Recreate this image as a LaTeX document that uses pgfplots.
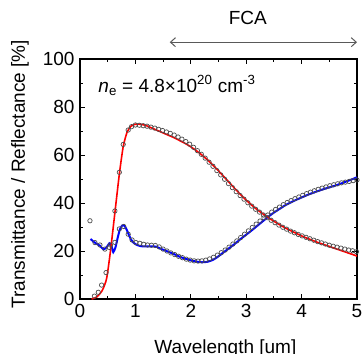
\documentclass[border=0pt]{standalone}
\usepackage{pgfplots}
\pgfplotsset{compat=1.18}
\usepackage{fontspec}
\setmainfont{Liberation Sans}
\usetikzlibrary{arrows.meta}
\begin{document}
\begin{tikzpicture}
\begin{axis}[
  name=ax,
  scale only axis,
  width=277bp, height=240bp,
  xmin=0, xmax=5, ymin=0, ymax=100,
  xtick={0,1,2,3,4,5}, ytick={0,20,40,60,80,100},
  minor x tick num=1, minor y tick num=1,
  tick align=inside,
  major tick length=5bp, minor tick length=3bp,
  axis line style={line width=1.1bp},
  every tick/.style={black, line width=0.9bp},
  font=\fontsize{19bp}{22bp}\selectfont,
  /pgf/number format/assume math mode=true,
  xticklabel style={yshift=-2bp},
  yticklabel style={xshift=-2bp},
  xlabel={Wavelength [um]},
  xlabel style={at={(axis description cs:0.525,-0.229)}, anchor=base},
  ylabel={Transmittance / Reflectance [\%]},
  ylabel style={at={(axis description cs:-0.217,0.52)}, anchor=center, rotate=0},
  clip=false,
]
% measured transmittance (circles)
\addplot[only marks, mark=o, mark size=2.2bp, mark options={draw=black!70, line width=0.7bp}] coordinates {
(0.26,1.2) (0.33,2.8) (0.39,5.8) (0.47,11) (0.55,22.5) (0.63,36.7) (0.71,52.8) (0.78,64.4) (0.87,70.4) (0.93,71.8) (1.0,72.5) (1.07,72.4) (1.14,72.2) (1.21,72) (1.28,71.6) (1.35,71.2) (1.42,70.7) (1.49,70.2) (1.56,69.6) (1.63,69) (1.7,68.3) (1.77,67.5) (1.84,66.6) (1.91,65.6) (1.98,64.5) (2.05,63.2) (2.12,61.8) (2.19,60.3) (2.26,58.7) (2.33,57) (2.4,55.3) (2.47,53.5) (2.54,51.7) (2.61,49.9) (2.68,48.1) (2.75,46.4) (2.82,44.7) (2.89,43.1) (2.96,41.6) (3.03,40.1) (3.10,38.7) (3.17,37.4) (3.24,36.2) (3.31,35) (3.38,33.9) (3.45,32.8) (3.52,31.8) (3.59,30.8) (3.66,29.9) (3.73,29.1) (3.80,28.3) (3.87,27.6) (3.94,26.9) (4.01,26.3) (4.08,25.7) (4.15,25.1) (4.22,24.5) (4.29,23.9) (4.36,23.4) (4.43,22.9) (4.50,22.4) (4.57,22) (4.64,21.6) (4.71,21.2) (4.78,20.8) (4.85,20.4) (4.92,20.1) (4.99,19.7)
};
% measured reflectance (circles)
\addplot[only marks, mark=o, mark size=2.2bp, mark options={draw=black!70, line width=0.7bp}] coordinates {
(0.18,32.6) (0.27,23.5) (0.36,22.5) (0.45,20.8) (0.53,21.5) (0.63,23.6) (0.71,29.2) (0.79,30.2) (0.87,27) (0.94,24.6) (1.01,23.5) (1.08,23.2) (1.15,22.8) (1.22,22.5) (1.29,22.4) (1.36,22.3) (1.43,21.7) (1.50,20.8) (1.57,20) (1.64,19.2) (1.71,18.5) (1.78,17.8) (1.85,17.2) (1.92,16.6) (1.99,16.2) (2.06,15.9) (2.13,15.8) (2.20,15.9) (2.27,16.2) (2.34,16.7) (2.41,17.4) (2.48,18.3) (2.55,19.3) (2.62,20.4) (2.69,21.6) (2.76,22.9) (2.83,24.2) (2.90,25.6) (2.97,27) (3.04,28.4) (3.11,29.8) (3.18,31.2) (3.25,32.5) (3.32,33.8) (3.39,35) (3.46,36.2) (3.53,37.3) (3.60,38.3) (3.67,39.3) (3.74,40.2) (3.81,41) (3.88,41.8) (3.95,42.5) (4.02,43.2) (4.09,43.9) (4.16,44.5) (4.23,45.1) (4.30,45.7) (4.37,46.2) (4.44,46.7) (4.51,47.2) (4.58,47.6) (4.65,48) (4.72,48.4) (4.79,48.7) (4.86,49) (4.93,49.3) (5.0,49.6)
};
% calculated reflectance (blue)
\addplot[blue, line width=2bp, smooth, tension=0.4] coordinates {
(0.19,25) (0.25,23.8) (0.3,23) (0.36,22.2) (0.42,20.7) (0.48,21.5) (0.53,23.2) (0.57,22) (0.6,19.5) (0.64,21.5) (0.68,25.5) (0.72,29) (0.76,30.6) (0.79,30.8) (0.83,29.5) (0.87,27.4) (0.92,24.8) (0.96,23.6) (1.02,22.6) (1.1,22) (1.2,21.9) (1.3,21.9) (1.38,21.8) (1.45,21) (1.56,20) (1.7,18.7) (1.8,17.6) (1.93,16.6) (2.0,16.1) (2.1,15.6) (2.2,15.3) (2.3,15.5) (2.4,16.3) (2.5,17.8) (2.6,19.6) (2.7,21.3) (2.8,23.1) (2.9,25) (3.0,26.8) (3.1,28.6) (3.2,30.5) (3.3,32.4) (3.4,34.3) (3.5,36) (3.6,37.5) (3.7,39) (3.8,40.2) (3.9,41.3) (4.0,42.3) (4.1,43.3) (4.2,44.2) (4.3,45) (4.4,45.8) (4.5,46.5) (4.6,47.2) (4.7,48) (4.8,48.9) (4.9,49.8) (5.0,50.7)
};
% calculated transmittance (red)
\addplot[red, line width=1.6bp, smooth, tension=0.4] coordinates {
(0.21,0) (0.3,0.8) (0.4,3.5) (0.48,8.5) (0.55,20) (0.63,36) (0.71,52) (0.78,63.5) (0.85,69.5) (0.92,72) (1.0,72.8) (1.1,72.8) (1.2,72.2) (1.3,71.2) (1.4,70.2) (1.5,69.2) (1.6,68.2) (1.7,67.2) (1.8,66) (1.9,64.8) (2.0,63.4) (2.1,61.8) (2.2,60) (2.3,58) (2.4,55.8) (2.5,53.4) (2.6,50.9) (2.7,48.4) (2.8,45.9) (2.9,43.5) (3.0,41.2) (3.1,39.1) (3.2,37.2) (3.3,35.5) (3.4,33.9) (3.5,32.4) (3.6,31) (3.7,29.7) (3.8,28.5) (3.9,27.4) (4.0,26.3) (4.1,25.3) (4.2,24.4) (4.3,23.5) (4.4,22.7) (4.5,21.9) (4.6,21.1) (4.7,20.3) (4.8,19.5) (4.9,18.7) (5.0,17.9)
};
\node[anchor=west, inner sep=0pt] at (axis cs:0.33,89) {\textit{n}\textsubscript{e} = 4.8×10\textsuperscript{20} cm\textsuperscript{-3}};
\draw[{Straight Barb[length=5bp,width=9bp]}-{Straight Barb[length=5bp,width=9bp]}, black!65, line width=1bp] (axis cs:1.62,107) -- (axis cs:5.0,107);
\node[inner sep=0pt] at (axis cs:3.03,117) {FCA};
\end{axis}
\pgfresetboundingbox
\path[use as bounding box] ([xshift=-80bp,yshift=-55bp]ax.south west) rectangle ([xshift=5bp,yshift=59bp]ax.north east);
\end{tikzpicture}
\end{document}
